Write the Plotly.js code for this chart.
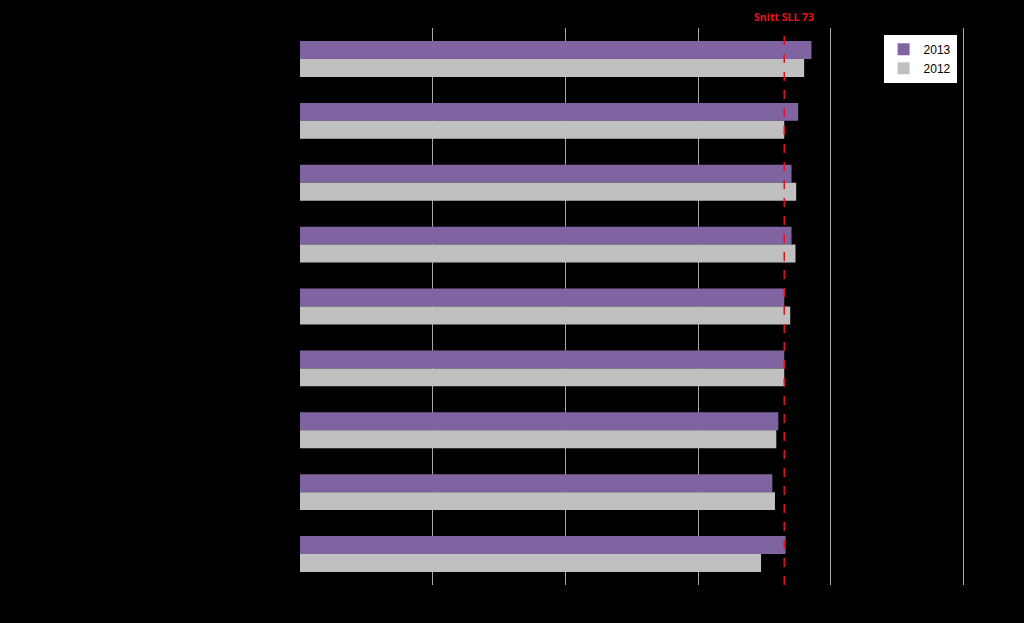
<!DOCTYPE html>
<html>
<head>
<meta charset="utf-8">
<script src="https://cdn.plot.ly/plotly-3.0.1.min.js"></script>
<style>html,body{margin:0;padding:0;background:#000;}#chart{width:1024px;height:623px;}</style>
</head>
<body>
<div id="chart"></div>
<script>
// Category labels are not legible in the reference (black on black)
const categories = ["Kategori 1","Kategori 2","Kategori 3","Kategori 4","Kategori 5","Kategori 6","Kategori 7","Kategori 8","Kategori 9"];
const values2013 = [77.1, 75.1, 74.1, 74.1, 73.0, 73.0, 72.1, 71.2, 73.2];
const values2012 = [76.0, 73.0, 74.8, 74.7, 73.9, 73.0, 71.8, 71.6, 69.5];
const seriesNames = ["2013", "2012"];
const averageValue = 73;
const averageLabel = "Snitt SLL 73";
const tickValues = [20, 40, 60, 80, 100];

const traces = [
  {type: "bar", orientation: "h", name: seriesNames[0], y: categories, x: values2013,
   marker: {color: "#8064A2"}, hoverinfo: "x+name"},
  {type: "bar", orientation: "h", name: seriesNames[1], y: categories, x: values2012,
   marker: {color: "#C0C0C0"}, hoverinfo: "x+name"}
];

const layout = {
  width: 1024, height: 623,
  paper_bgcolor: "#000", plot_bgcolor: "#000",
  margin: {l: 300, r: 54, t: 28, b: 38},
  barmode: "group", bargap: 0.42, bargroupgap: 0,
  showlegend: true,
  legend: {x: 0.98, y: 0.988, xanchor: "right", yanchor: "top",
           bgcolor: "#fff", bordercolor: "#000", borderwidth: 0,
           font: {family: "Liberation Sans, Arial", size: 12, color: "#000"},
           tracegroupgap: 0, itemwidth: 30},
  xaxis: {range: [0, 101], tickvals: tickValues, showgrid: true, gridcolor: "#a6a6a6", gridwidth: 1,
          zeroline: false, showline: false, showticklabels: false, ticks: ""},
  yaxis: {type: "category", autorange: "reversed", showgrid: false, zeroline: false,
          showline: false, tickfont: {color: "#000", size: 11}, ticks: ""},
  shapes: [{type: "line", xref: "x", yref: "paper", x0: averageValue, x1: averageValue, y0: 0, y1: 1,
            line: {color: "#e8101e", width: 1.5, dash: "dash"}}],
  annotations: [{xref: "x", yref: "paper", x: averageValue, y: 1.003, yanchor: "bottom", xanchor: "center",
                 text: "<b>" + averageLabel + "</b>", showarrow: false,
                 font: {family: "Open Sans, Liberation Sans", size: 10.5, color: "#e8101e"}}]
};

Plotly.newPlot("chart", traces, layout, {displayModeBar: false, staticPlot: true});
</script>
</body>
</html>
